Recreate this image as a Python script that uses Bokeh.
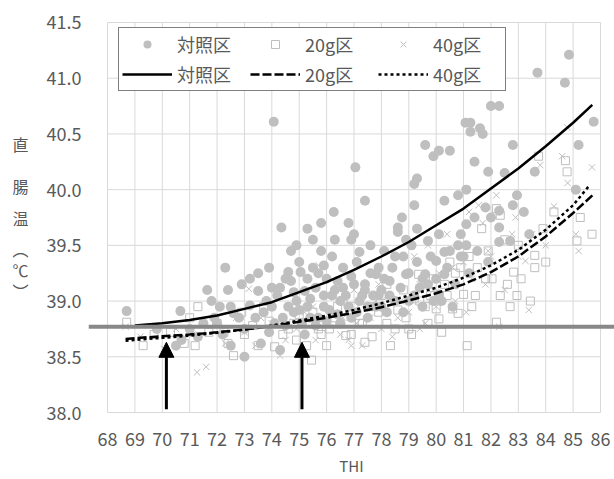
from bokeh.plotting import figure
from bokeh.models import (Range1d, FixedTicker, Span, Arrow, NormalHead, Legend,
                          LegendItem, ColumnDataSource, NumeralTickFormatter)
from bokeh.embed import file_html
from bokeh.resources import INLINE

# ---------------- data ----------------
x_ticks = list(range(68, 87))
y_ticks = [38.0, 38.5, 39.0, 39.5, 40.0, 40.5, 41.0, 41.5]

series_names = ["対照区", "20g区", "40g区"]

ctrl_x = [68.7, 70.5, 70.7, 70.66, 71.0, 71.3, 71.64, 71.8, 71.9, 72.0, 72.3, 72.4, 72.5, 72.6,
          72.5, 72.8, 73.0, 73.2, 73.2, 73.4, 73.5, 73.6, 73.7, 73.9, 74.0, 74.07, 74.2, 74.3,
          74.35, 74.5, 74.6, 74.7, 74.7, 74.8, 74.9, 75.0, 75.05, 75.1, 75.2, 75.3, 75.5, 75.5,
          75.6, 75.7, 75.8, 75.8, 75.9, 76.0, 76.1, 76.26, 76.3, 76.5, 76.6, 76.8, 76.9, 77.0,
          77.05, 77.2, 77.3, 77.4, 77.5, 77.6, 77.8, 78.0, 78.2, 78.3, 78.4, 78.6, 78.6, 78.75,
          78.9, 79.0, 79.1, 79.2, 79.2, 79.3, 79.3, 79.4, 79.6, 79.6, 79.7, 79.9, 80.0, 80.1,
          80.1, 80.1, 80.3, 80.3, 80.3, 80.5, 80.6, 80.8, 81.07, 81.1, 81.1, 81.25, 81.25, 81.4,
          81.6, 81.7, 81.8, 81.9, 82.0, 82.0, 82.3, 82.3, 82.3, 82.3, 82.7, 82.8, 82.8, 82.95,
          83.2, 83.4, 83.6, 83.7, 84.7, 85.1, 85.2, 85.75,
          74.4, 74.6, 75.4, 75.9, 76.4, 76.7, 77.1, 77.8, 78.5, 76.2, 77.6, 78.1, 80.5, 81.1,
          80.9, 79.5, 79.9, 76.9, 77.4, 78.8, 75.2, 73.0, 72.1, 74.0, 76.5, 77.9,
          73.8, 74.1, 74.3, 74.5, 74.8, 75.0, 75.3, 75.4, 75.6, 75.7, 75.9, 76.0, 76.2, 76.4,
          76.5, 76.6, 76.8, 76.9, 77.1, 77.2, 77.4, 77.5, 77.7, 77.9, 78.0, 78.1, 78.3, 78.5,
          78.7, 78.8, 79.0, 79.2, 79.5, 79.7, 79.8, 80.0, 80.2, 80.4, 80.7, 81.0, 81.2, 81.5,
          81.9, 80.9, 79.3, 78.9, 77.0, 76.3, 75.3, 74.9, 73.9, 73.5, 72.9, 72.2, 71.5, 69.8,
          84.85, 81.4, 82.5, 80.8]
ctrl_y = [38.91, 38.60, 38.65, 38.91, 38.75, 38.68, 39.10, 39.00, 38.85, 38.80, 39.30, 39.10,
          38.95, 38.89, 38.60, 38.85, 38.50, 39.20, 38.96, 38.85, 39.09, 38.62, 38.90, 38.72,
          38.95, 40.61, 39.05, 38.56, 39.66, 39.20, 39.26, 39.45, 39.18, 38.90, 39.00, 39.35,
          39.26, 38.80, 39.09, 38.95, 39.30, 39.55, 39.12, 38.85, 39.45, 39.70, 39.05, 39.20,
          38.92, 39.80, 39.10, 39.00, 39.30, 39.70, 39.55, 39.15, 40.20, 39.44, 39.05, 39.90,
          38.95, 39.25, 39.24, 39.10, 38.90, 39.18, 39.30, 39.66, 39.62, 39.75, 39.24, 39.00,
          39.50, 39.86, 40.05, 40.10, 39.35, 39.12, 40.40, 39.24, 39.54, 40.30, 39.36, 40.35,
          39.60, 39.06, 39.90, 39.44, 39.24, 40.35, 38.95, 39.50, 40.60, 40.00, 39.69, 40.60,
          40.52, 39.75, 40.55, 40.50, 39.84, 40.16, 40.75, 39.75, 40.75, 39.66, 39.53, 39.81,
          39.54, 40.40, 39.86, 39.95, 39.80, 39.60, 40.16, 41.05, 40.96, 40.00, 40.40, 40.61,
          38.85, 38.95, 38.85, 38.95, 38.88, 39.05, 38.90, 38.95, 39.00, 39.40, 39.50, 39.45,
          39.45, 39.50, 39.40, 39.20, 39.00, 38.85, 39.10, 39.40, 38.70, 38.75, 38.95, 39.12,
          38.80, 39.05,
          39.00, 38.80, 39.12, 38.78, 39.08, 38.92, 39.20, 39.02, 38.78, 39.25, 39.32, 38.82,
          39.05, 39.18, 38.80, 39.12, 38.95, 39.22, 39.35, 39.00, 39.15, 38.85, 39.05, 39.30,
          38.95, 39.20, 39.05, 39.40, 39.12, 38.90, 39.25, 39.05, 38.95, 39.15, 39.40, 39.20,
          39.00, 39.30, 39.15, 39.40, 39.25, 39.45, 39.35, 39.60, 39.65, 39.55, 39.60, 39.55,
          39.65, 39.50, 39.30, 39.25, 39.15, 38.70, 38.80, 38.75,
          41.21, 40.25, 40.15, 39.95]

g20_x = [68.7, 69.3, 69.7, 70.3, 70.8, 71.2, 71.3, 71.7, 72.0, 72.25, 72.6, 72.9, 73.3, 73.5,
         73.9, 74.1, 74.4, 74.8, 75.0, 75.27, 75.45, 75.7, 76.0, 76.3, 76.7, 77.0, 77.4, 77.66,
         77.9, 78.2, 78.33, 78.6, 78.9, 79.2, 79.36, 79.6, 79.7, 80.0, 80.1, 80.3, 80.6, 80.8,
         80.9, 81.0, 81.13, 81.43, 81.66, 81.8, 82.04, 82.2, 82.2, 82.34, 82.34, 82.83, 82.95,
         83.44, 83.6, 83.6, 83.74, 84.72, 84.78, 85.14, 85.26, 85.69,
         73.0, 74.6, 75.5, 76.6, 77.2, 78.0, 78.8, 79.4, 79.9, 80.4, 81.2, 81.5, 82.6, 83.0,
         76.1, 77.7, 79.0, 80.7, 84.0, 74.9,
         75.8, 76.4, 77.3, 78.5, 79.1, 79.8, 80.5, 81.3, 81.9, 82.5, 83.1, 83.9, 84.3, 73.7,
         72.4, 71.0, 76.9, 78.2, 80.2, 82.7]
g20_y = [38.81, 38.60, 38.70, 38.72, 38.62, 38.60, 38.95, 38.72, 38.80, 38.72, 38.51, 38.90,
         38.78, 38.60, 38.82, 38.59, 38.70, 38.80, 38.88, 38.60, 38.47, 38.75, 38.60, 38.85,
         38.69, 38.95, 38.63, 38.68, 38.90, 38.80, 38.60, 38.92, 38.85, 39.02, 39.24, 38.95,
         38.80, 38.93, 38.84, 39.15, 38.93, 38.89, 39.30, 39.06, 38.60, 39.05, 39.65, 39.20,
         39.20, 39.83, 38.81, 39.77, 39.05, 39.26, 39.05, 39.00, 39.41, 39.30, 40.30, 40.26,
         40.16, 39.54, 39.75, 39.60,
         38.70, 38.75, 38.90, 39.00, 38.80, 39.05, 39.10, 39.00, 39.20, 39.05, 39.40, 39.30,
         39.15, 39.50, 38.75, 38.95, 38.75, 39.25, 39.35, 38.65,
         38.70, 38.95, 38.80, 38.75, 38.70, 39.05, 39.35, 38.95, 39.45, 39.55, 39.20, 39.65,
         39.80, 38.95, 38.62, 38.85, 38.70, 39.15, 38.72, 38.95]

g40_x = [68.66, 69.2, 70.06, 70.5, 71.27, 71.6, 71.9, 72.3, 73.16, 73.0, 73.6, 74.3, 74.5,
         74.9, 75.2, 75.71, 76.0, 76.5, 76.9, 77.3, 77.6, 78.0, 78.4, 78.7, 79.0, 79.2, 79.6,
         79.9, 80.4, 80.7, 81.0, 81.3, 81.55, 81.9, 82.2, 82.3, 82.5, 82.77, 83.0, 83.26, 83.38,
         83.8, 84.0, 84.78, 84.8, 85.1, 85.2, 85.69,
         74.0, 75.5, 76.3, 77.0, 78.2, 79.4, 80.1, 80.9, 81.7, 81.2, 82.0, 80.6, 77.8, 76.6,
         73.4, 74.7, 75.6, 76.2, 77.1, 77.9, 78.6, 79.4, 80.0, 80.3, 81.1, 81.8, 82.9, 83.5,
         84.3, 84.6, 72.7, 71.1, 76.8, 79.7]
g40_y = [38.77, 38.68, 38.57, 38.75, 38.36, 38.41, 38.80, 38.62, 39.11, 38.72, 38.85, 38.51,
         38.65, 38.75, 38.90, 39.32, 38.80, 38.70, 38.60, 38.60, 38.85, 38.75, 38.68, 39.00,
         38.90, 39.40, 38.80, 39.10, 39.60, 39.00, 39.35, 39.20, 39.86, 39.45, 39.95, 38.77,
         39.10, 39.60, 39.40, 39.36, 38.92, 40.22, 39.50, 40.56, 40.06, 39.60, 39.45, 40.20,
         38.80, 38.95, 38.90, 39.10, 39.05, 39.15, 39.25, 39.50, 39.70, 39.80, 39.40, 39.30,
         39.00, 38.85,
         38.60, 38.95, 38.65, 39.05, 38.80, 39.15, 38.85, 38.75, 38.95, 39.25, 38.90, 39.15,
         39.75, 39.60, 39.85, 40.30, 38.85, 38.70, 38.65, 39.50]

ctrl_fit_x = [69.0, 70, 71, 72, 73, 74, 75, 76, 77, 78, 79, 80, 81, 82, 83, 84, 85, 85.7]
ctrl_fit_y = [38.78, 38.80, 38.83, 38.87, 38.93, 38.99, 39.08, 39.17, 39.28, 39.40, 39.53,
              39.68, 39.83, 40.01, 40.19, 40.39, 40.60, 40.76]
g20_fit_x = [68.66, 70, 71, 72, 73, 74, 75, 76, 77, 78, 79, 80, 81, 82, 83, 84, 85, 85.71]
g20_fit_y = [38.66, 38.685, 38.70, 38.72, 38.745, 38.775, 38.815, 38.85, 38.895, 38.945,
             39.005, 39.07, 39.15, 39.26, 39.40, 39.58, 39.79, 39.95]
g40_fit_x = [68.66, 70, 71, 72, 73, 74, 75, 76, 77, 78, 79, 80, 81, 82, 83, 84, 85, 85.57]
g40_fit_y = [38.645, 38.67, 38.69, 38.715, 38.745, 38.78, 38.825, 38.87, 38.92, 38.98, 39.05,
             39.12, 39.21, 39.32, 39.46, 39.64, 39.86, 40.03]

ref_temp = 38.77
arrow_x = [70.15, 75.1]
arrow_y_start = [38.03, 38.03]
arrow_y_end = [38.63, 38.63]

y_label_chars = ["直", "腸", "温", "︵", "℃", "︶"]
y_label_gaps = [4, 3, 3, 2, 2]   # blank-line spacing between stacked characters
x_label = "THI"

# ---------------- styling ----------------
FONT = "Noto Sans CJK JP"
TXT = "#595959"
GRID = "#d9d9d9"
MARK = "#bfbfbf"

p = figure(width=614, height=479, output_backend="svg", toolbar_location=None,
           x_range=Range1d(67.306, 86.511),
           y_range=Range1d(38.0 - 1 / 111.43, 41.5 + 1 / 111.43),
           min_border_left=88, min_border_right=0, min_border_top=21, min_border_bottom=66)
p.outline_line_color = None
p.background_fill_color = "white"
p.border_fill_color = "white"
p.xgrid.grid_line_color = None
p.ygrid.grid_line_color = None

# grid drawn from the tick lists, bounded by first/last tick
p.segment(x0=x_ticks, x1=x_ticks, y0=[y_ticks[0]] * len(x_ticks), y1=[y_ticks[-1]] * len(x_ticks),
          line_color=GRID, line_width=1)
p.segment(x0=[x_ticks[0]] * len(y_ticks), x1=[x_ticks[-1]] * len(y_ticks), y0=y_ticks, y1=y_ticks,
          line_color=GRID, line_width=1)

for ax in (p.xaxis[0], p.yaxis[0]):
    ax.axis_line_color = None
    ax.major_tick_line_color = None
    ax.minor_tick_line_color = None
    ax.major_tick_out = 0
    ax.major_tick_in = 0
    ax.minor_tick_out = 0
    ax.major_label_text_font = FONT
    ax.major_label_text_font_size = "18px"
    ax.major_label_text_color = TXT
    ax.axis_label_text_font = FONT
    ax.axis_label_text_font_style = "normal"
    ax.axis_label_text_color = TXT

p.xaxis.ticker = FixedTicker(ticks=x_ticks)
p.xaxis.major_label_standoff = 18
p.xaxis.axis_label = x_label
p.xaxis.axis_label_text_font_size = "15px"
p.xaxis.axis_label_standoff = 6

p.yaxis.ticker = FixedTicker(ticks=y_ticks)
p.yaxis.formatter = NumeralTickFormatter(format="0.0")
p.yaxis.major_label_standoff = 7
lines = [y_label_chars[0]]
for ch, g in zip(y_label_chars[1:], y_label_gaps):
    lines += [""] * (g - 1) + [ch]
p.yaxis.axis_label = "\n".join(lines)
p.yaxis.axis_label_orientation = "horizontal"
p.yaxis.axis_label_text_font_size = "16px"
p.yaxis.axis_label_text_line_height = 0.44
p.yaxis.axis_label_standoff = 15

r_ctrl = p.scatter(ctrl_x, ctrl_y, marker="circle", size=10, fill_color=MARK, line_color=None)
r_20 = p.scatter(g20_x, g20_y, marker="square", size=8, fill_color=None, line_color=MARK, line_width=1)
r_40 = p.scatter(g40_x, g40_y, marker="x", size=9, line_color=MARK, line_width=1)

l_ctrl = p.line(ctrl_fit_x, ctrl_fit_y, line_color="black", line_width=2.5)
l_20 = p.line(g20_fit_x, g20_fit_y, line_color="black", line_width=2.5, line_dash="9 3")
l_40 = p.line(g40_fit_x, g40_fit_y, line_color="black", line_width=2.5, line_dash="3 3")

p.add_layout(Span(location=ref_temp, dimension="width", line_color="#888888", line_width=4))

arrow_src = ColumnDataSource(dict(x=arrow_x, y0=arrow_y_start, y1=arrow_y_end))
p.add_layout(Arrow(x_start="x", y_start="y0", x_end="x", y_end="y1", source=arrow_src,
                   line_color="black", line_width=3,
                   end=NormalHead(size=15, fill_color="black", line_color="black", line_width=1)))

legend = Legend(items=[
    LegendItem(label=series_names[0], renderers=[r_ctrl]),
    LegendItem(label=series_names[1], renderers=[r_20]),
    LegendItem(label=series_names[2], renderers=[r_40]),
    LegendItem(label=series_names[0], renderers=[l_ctrl]),
    LegendItem(label=series_names[1], renderers=[l_20]),
    LegendItem(label=series_names[2], renderers=[l_40]),
], orientation="horizontal", ncols=3, location=(30, 322),
    glyph_width=50, glyph_height=20, label_height=20, label_width=69, spacing=4, padding=3,
    margin=0, label_standoff=5,
    label_text_font=FONT, label_text_font_size="18px", label_text_color=TXT,
    border_line_color="black", border_line_width=1.5, background_fill_alpha=1.0)
p.add_layout(legend)

open("out.html", "w").write(file_html(p, INLINE))
